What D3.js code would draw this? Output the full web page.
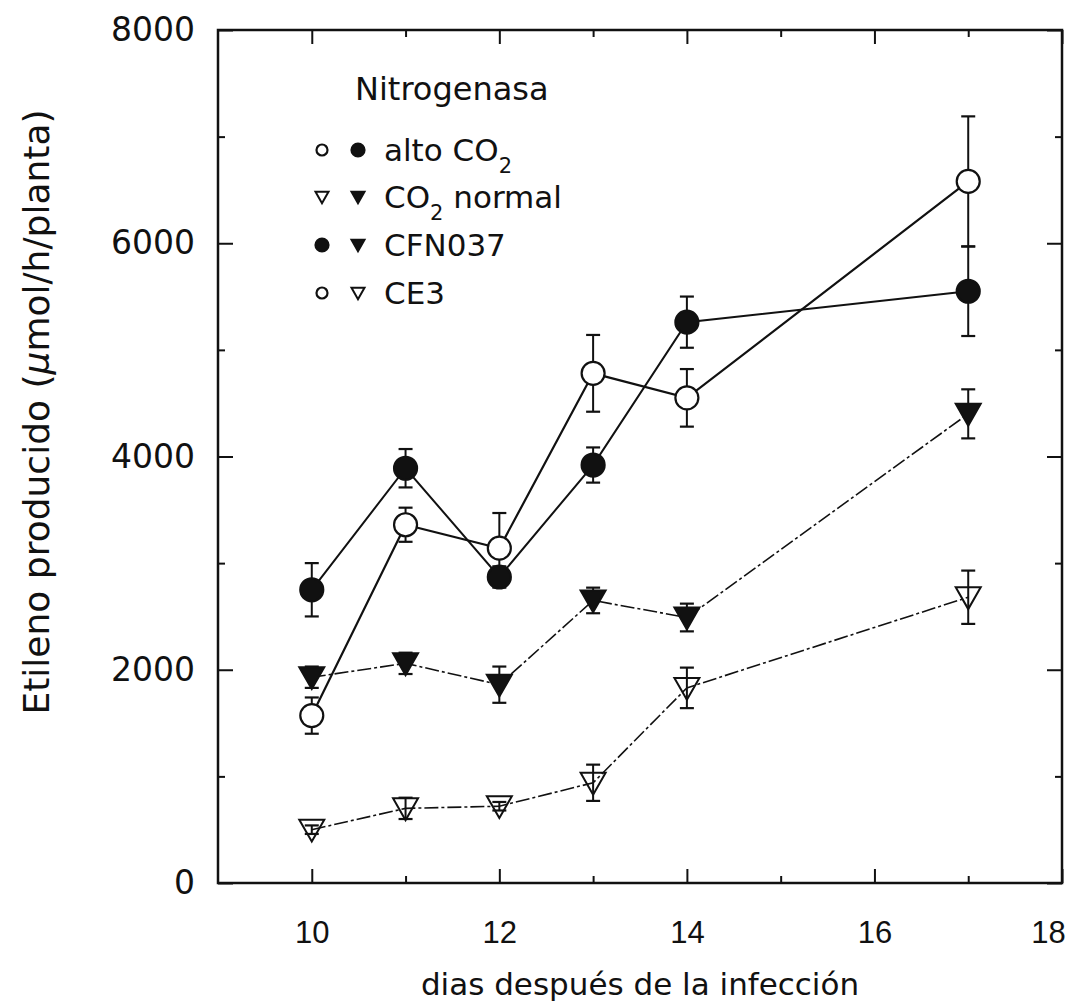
<!DOCTYPE html>
<html>
<head>
<meta charset="utf-8">
<script src="https://cdn.jsdelivr.net/npm/d3@7"></script>
<style>
  body { margin: 0; background: #fff; }
  text { font-family: "DejaVu Sans", sans-serif; fill: #111; }
  .xaxis text { font-family: "Liberation Sans Narrow", "Liberation Sans", sans-serif; }
</style>
</head>
<body>
<div id="viz"></div>
<script>
// days after infection
var days = [10, 11, 12, 13, 14, 17];

// alto CO2 - CFN037 (filled circles)
var altoCFN = [2750, 3890, 2870, 3920, 5260, 5550];
var altoCFNErr = [250, 180, 100, 165, 240, 420];
// alto CO2 - CE3 (open circles)
var altoCE3 = [1570, 3360, 3140, 4780, 4550, 6580];
var altoCE3Err = [170, 160, 330, 360, 270, 610];
// CO2 normal - CFN037 (filled triangles)
var normCFN = [1930, 2060, 1860, 2650, 2490, 4400];
var normCFNErr = [100, 100, 170, 120, 130, 230];
// CO2 normal - CE3 (open triangles)
var normCE3 = [500, 700, 720, 940, 1830, 2680];
var normCE3Err = [40, 100, 40, 170, 190, 250];

var xMajor = [10, 12, 14, 16, 18];
var xMinor = [11, 13, 15, 17];
var yMajor = [0, 2000, 4000, 6000, 8000];
var yMinor = [1000, 3000, 5000, 7000];

var width = 1092, height = 1007;
var margin = {top: 30, right: 30, bottom: 124, left: 218};

var x = d3.scaleLinear().domain([9, 18]).range([margin.left, width - margin.right]);
var y = d3.scaleLinear().domain([0, 8000]).range([height - margin.bottom, margin.top]);

var svg = d3.select("#viz").append("svg")
    .attr("width", width)
    .attr("height", height);

// frame
svg.append("rect")
    .attr("x", x(9)).attr("y", y(8000))
    .attr("width", x(18) - x(9)).attr("height", y(0) - y(8000))
    .attr("fill", "none").attr("stroke", "#111").attr("stroke-width", 2.5);

// bottom axis with labels, ticks inward
var gx = svg.append("g").attr("class", "xaxis")
    .attr("transform", "translate(0," + y(0) + ")")
    .call(d3.axisBottom(x).tickValues(xMajor).tickSize(-14).tickPadding(38).tickFormat(d3.format("d")));
gx.selectAll("text").style("font-size", "31px");
gx.selectAll(".tick").filter(function(d) { return d === 18; }).select("text").attr("dx", -14);
svg.append("g").attr("transform", "translate(0," + y(0) + ")")
    .call(d3.axisBottom(x).tickValues(xMinor).tickSize(-7).tickFormat(""));
// top mirror
svg.append("g").attr("transform", "translate(0," + y(8000) + ")")
    .call(d3.axisTop(x).tickValues(xMajor).tickSize(-14).tickFormat(""));
svg.append("g").attr("transform", "translate(0," + y(8000) + ")")
    .call(d3.axisTop(x).tickValues(xMinor).tickSize(-7).tickFormat(""));

// left axis
var gy = svg.append("g").attr("class", "yaxis")
    .attr("transform", "translate(" + x(9) + ",0)")
    .call(d3.axisLeft(y).tickValues(yMajor).tickSize(-15).tickPadding(23).tickFormat(d3.format("d")));
gy.selectAll("text").style("font-size", "33px");
svg.append("g").attr("transform", "translate(" + x(9) + ",0)")
    .call(d3.axisLeft(y).tickValues(yMinor).tickSize(-7).tickFormat(""));
// right mirror
svg.append("g").attr("transform", "translate(" + x(18) + ",0)")
    .call(d3.axisRight(y).tickValues(yMajor).tickSize(-15).tickFormat(""));
svg.append("g").attr("transform", "translate(" + x(18) + ",0)")
    .call(d3.axisRight(y).tickValues(yMinor).tickSize(-7).tickFormat(""));

svg.selectAll(".domain").remove();
svg.selectAll(".tick line").attr("stroke", "#111").attr("stroke-width", 2);

// axis titles
svg.append("text")
    .attr("x", (x(9) + x(18)) / 2).attr("y", 995)
    .attr("text-anchor", "middle")
    .style("font-size", "31px")
    .text("dias después de la infección");

var ylab = svg.append("text")
    .attr("transform", "translate(36,412) rotate(-90)")
    .attr("text-anchor", "middle")
    .attr("dominant-baseline", "central")
    .style("font-size", "36px");
ylab.append("tspan").text("Etileno producido (");
ylab.append("tspan").style("font-style", "italic").text("μ");
ylab.append("tspan").text("mol/h/planta)");

var series = [
  {vals: altoCE3, err: altoCE3Err, shape: "circle", filled: false, dash: null, lw: 2.2},
  {vals: altoCFN, err: altoCFNErr, shape: "circle", filled: true, dash: null, lw: 2},
  {vals: normCFN, err: normCFNErr, shape: "triangle", filled: true, dash: "14,3,3,3", lw: 1.6},
  {vals: normCE3, err: normCE3Err, shape: "triangle", filled: false, dash: "14,3,3,3", lw: 1.6}
];

var line = d3.line()
    .x(function(d, i) { return x(days[i]); })
    .y(function(d) { return y(d); });

var triDown = function(cx, cy, s) {
  return "M" + (cx - s) + "," + (cy - s * 0.8) + "L" + (cx + s) + "," + (cy - s * 0.8) + "L" + cx + "," + (cy + s * 0.95) + "Z";
};

series.forEach(function(s) {
  svg.append("path")
      .datum(s.vals)
      .attr("d", line)
      .attr("fill", "none")
      .attr("stroke", "#111")
      .attr("stroke-width", s.lw)
      .attr("stroke-dasharray", s.dash);
});

series.forEach(function(s) {
  var g = svg.append("g");
  var pts = s.vals.map(function(v, i) { return {x: days[i], v: v, e: s.err[i]}; });

  // error bars
  g.selectAll("line.eb").data(pts).enter().append("line")
      .attr("x1", function(d) { return x(d.x); }).attr("x2", function(d) { return x(d.x); })
      .attr("y1", function(d) { return y(d.v + d.e); }).attr("y2", function(d) { return y(d.v - d.e); })
      .attr("stroke", "#111").attr("stroke-width", 2);
  [1, -1].forEach(function(sign) {
    g.selectAll("line.cap" + sign).data(pts).enter().append("line")
        .attr("x1", function(d) { return x(d.x) - 7; }).attr("x2", function(d) { return x(d.x) + 7; })
        .attr("y1", function(d) { return y(d.v + sign * d.e); }).attr("y2", function(d) { return y(d.v + sign * d.e); })
        .attr("stroke", "#111").attr("stroke-width", 2.2);
  });

  if (s.shape === "circle") {
    g.selectAll("circle").data(pts).enter().append("circle")
        .attr("cx", function(d) { return x(d.x); })
        .attr("cy", function(d) { return y(d.v); })
        .attr("r", 11.5)
        .attr("fill", s.filled ? "#111" : "#fff")
        .attr("stroke", "#111").attr("stroke-width", 2.2);
  } else {
    g.selectAll("path.tri").data(pts).enter().append("path")
        .attr("d", function(d) { return triDown(x(d.x), y(d.v), 12.5); })
        .attr("fill", s.filled ? "#111" : "none")
        .attr("stroke", "#111").attr("stroke-width", 2);
  }
});

// legend
var leg = svg.append("g");
leg.append("text").attr("x", 355).attr("y", 100).style("font-size", "32px").text("Nitrogenasa");

var legRows = [
  {y: 150, a: "circle", af: false, b: "circle", bf: true, label: ["alto CO", "2", ""]},
  {y: 197, a: "triangle", af: false, b: "triangle", bf: true, label: ["CO", "2", " normal"]},
  {y: 245, a: "circle", af: true, b: "triangle", bf: true, label: ["CFN037", "", ""]},
  {y: 293, a: "circle", af: false, b: "triangle", bf: false, label: ["CE3", "", ""]}
];

legRows.forEach(function(r) {
  [[322, r.a, r.af], [358, r.b, r.bf]].forEach(function(m) {
    if (m[1] === "circle") {
      leg.append("circle").attr("cx", m[0]).attr("cy", r.y).attr("r", m[2] ? 6.5 : 5.5)
          .attr("fill", m[2] ? "#111" : "#fff").attr("stroke", "#111").attr("stroke-width", 2.2);
    } else {
      leg.append("path").attr("d", triDown(m[0], r.y, 6.5))
          .attr("fill", m[2] ? "#111" : "#fff").attr("stroke", "#111").attr("stroke-width", 2);
    }
  });
  var t = leg.append("text").attr("x", 384).attr("y", r.y + 11).style("font-size", "31px");
  t.append("tspan").text(r.label[0]);
  if (r.label[1]) t.append("tspan").attr("dy", 12).style("font-size", "21px").text(r.label[1]);
  if (r.label[2]) t.append("tspan").attr("dy", -12).text(r.label[2]);
});
</script>
</body>
</html>
